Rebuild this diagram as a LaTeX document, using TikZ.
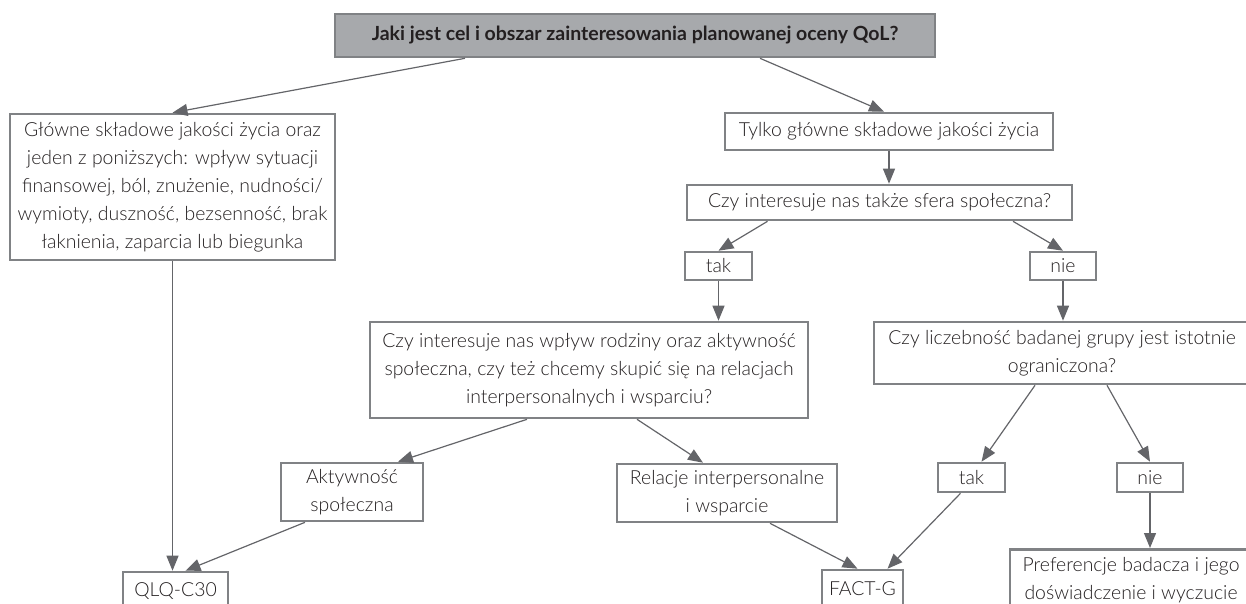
\documentclass[tikz,border=0pt]{standalone}
\usepackage{fontspec}
\setmainfont{Lato}[UprightFont={* Light},BoldFont={* Bold}]
\usetikzlibrary{arrows.meta,calc}
\definecolor{boxline}{RGB}{128,130,133}
\definecolor{arrcol}{RGB}{100,101,105}
\definecolor{titlefill}{RGB}{167,169,172}
\definecolor{txt}{RGB}{35,31,32}
\tikzset{
  box/.style={draw=boxline, line width=2.6pt, fill=white, inner sep=0pt, align=center,
    text=txt, font=\fontsize{19.4}{28}\selectfont},
  titlebox/.style={box, fill=titlefill, font=\fontsize{19.5}{22}\selectfont\bfseries},
  arr/.style={draw=arrcol, line width=1.2pt, -{Triangle[length=15pt,width=12pt]}},
}
\begin{document}
\begin{tikzpicture}[x=1pt,y=-1pt]
\useasboundingbox (0,0) rectangle (1246,603);
\clip (0,0) rectangle (1246,603);
\node[titlebox, minimum width=600pt, minimum height=43pt] (title) at (635,35.5) {Jaki jest cel i obszar zainteresowania planowanej oceny QoL?};
\node[box, minimum width=325pt, minimum height=146pt] (glowne) at (172.5,187) {Główne składowe jakości życia oraz\\jeden z poniższych: wpływ sytuacji\\finansowej, ból, znużenie, nudności/\\wymioty, duszność, bezsenność, brak\\łaknienia, zaparcia lub biegunka};
\node[box, minimum width=328pt, minimum height=37pt] (tylko) at (889,131.5) {Tylko główne składowe jakości życia};
\node[box, minimum width=385pt, minimum height=35pt] (sfera) at (879.5,202.5) {Czy interesuje nas także sfera społeczna?};
\node[box, minimum width=67pt, minimum height=28pt] (tak1) at (718.5,266) {tak};
\node[box, minimum width=66pt, minimum height=28pt] (nie1) at (1063,266) {nie};
\node[box, minimum width=438pt, minimum height=96pt] (rodz) at (589,370) {Czy interesuje nas wpływ rodziny oraz aktywność\\społeczna, czy też chcemy skupić się na relacjach\\interpersonalnych i wsparciu?};
\node[box, minimum width=376pt, minimum height=62pt] (licz) at (1062,353) {Czy liczebność badanej grupy jest istotnie\\ograniczona?};
\node[box, minimum width=142pt, minimum height=58pt] (akt) at (352,492) {Aktywność\\społeczna};
\node[box, minimum width=220pt, minimum height=58pt] (rel) at (727,493) {Relacje interpersonalne\\i wsparcie};
\node[box, minimum width=67pt, minimum height=29pt] (tak2) at (971.5,477.5) {tak};
\node[box, minimum width=66pt, minimum height=29pt] (nie2) at (1150,477.5) {nie};
\node[box, minimum width=105pt, minimum height=38pt] (qlq) at (175.5,591) {QLQ-C30};
\node[box, minimum width=81pt, minimum height=38pt] (fact) at (862.5,589) {FACT-G};
\node[box, minimum width=242pt, anchor=north, inner ysep=8pt] (pref) at (1131,548) {Preferencje badacza i jego\\doświadczenie i wyczucie\\\strut};
\draw[arr] ([xshift=-170pt]title.south) -- (glowne.north);
\draw[arr] ([xshift=125pt]title.south) -- ([xshift=-5pt]tylko.north);
\draw[arr] (tylko.south) -- (tylko.south |- sfera.north);
\draw[arr] ([xshift=-112pt]sfera.south) -- (tak1.north);
\draw[arr] ([xshift=133.5pt]sfera.south) -- (nie1.north);
\draw[arr] (tak1.south) -- (tak1.south |- rodz.north);
\draw[arr] (nie1.south) -- (nie1.south |- licz.north);
\draw[arr] ([xshift=-62pt]rodz.south) -- ([xshift=46pt]akt.north);
\draw[arr] ([xshift=48pt]rodz.south) -- ([xshift=-24pt]rel.north);
\draw[arr] (glowne.south) -- (glowne.south |- qlq.north);
\draw[arr] ([xshift=-47pt]akt.south) -- ([xshift=10pt]qlq.north);
\draw[arr] ([xshift=-27pt]licz.south) -- ([xshift=10pt]tak2.north);
\draw[arr] ([xshift=45pt]licz.south) -- (nie2.north);
\draw[arr] (nie2.south) -- (nie2.south |- pref.north);
\draw[arr] ([xshift=-11pt]tak2.south) -- ([xshift=25pt]fact.north);
\draw[arr] ([xshift=43pt]rel.south) -- ([xshift=-5pt]fact.north);
\end{tikzpicture}
\end{document}
